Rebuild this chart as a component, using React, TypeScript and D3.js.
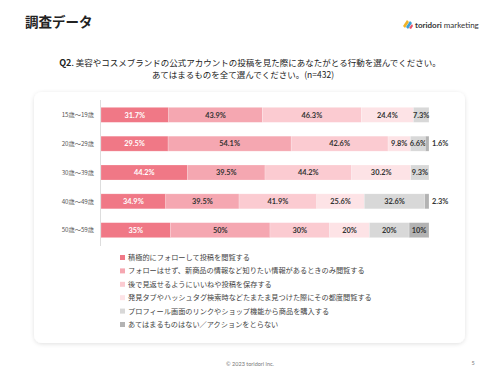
import React from "react";
import * as d3 from "d3";

const categories = ["15歳〜19歳", "20歳〜29歳", "30歳〜39歳", "40歳〜49歳", "50歳〜59歳"];
const seriesNames = [
  "積極的にフォローして投稿を閲覧する",
  "フォローはせず、新商品の情報など知りたい情報があるときのみ閲覧する",
  "後で見返せるようにいいねや投稿を保存する",
  "発見タブやハッシュタグ検索時などたまたま見つけた際にその都度閲覧する",
  "プロフィール画面のリンクやショップ機能から商品を購入する",
  "あてはまるものはない／アクションをとらない",
];
const values: number[][] = [
  [31.7, 43.9, 46.3, 24.4, 7.3, 0],
  [29.5, 54.1, 42.6, 9.8, 6.6, 1.6],
  [44.2, 39.5, 44.2, 30.2, 9.3, 0],
  [34.9, 39.5, 41.9, 25.6, 32.6, 2.3],
  [35, 50, 30, 20, 20, 10],
];
const labels: string[][] = [
  ["31.7%", "43.9%", "46.3%", "24.4%", "7.3%", ""],
  ["29.5%", "54.1%", "42.6%", "9.8%", "6.6%", "1.6%"],
  ["44.2%", "39.5%", "44.2%", "30.2%", "9.3%", ""],
  ["34.9%", "39.5%", "41.9%", "25.6%", "32.6%", "2.3%"],
  ["35%", "50%", "30%", "20%", "20%", "10%"],
];
const colors = ["#f07886", "#f5a7b1", "#fbcbd1", "#fde3e6", "#d8d8d8", "#b3b3b3"];

const JP = "'Noto Sans CJK JP', 'Noto Sans', sans-serif";
const NUM = "Lato, 'Noto Sans', sans-serif";

export default function App() {
  const W = 500, H = 375;
  const x0 = 101, x1 = 429;
  const y = d3.scaleBand<string>().domain(categories).range([101, 244]).paddingInner(0.48).paddingOuter(0.22);

  return (
    <svg width={W} height={H} style={{ position: "absolute", left: 0, top: 0, background: "#fff" }}>
      <defs>
        <filter id="sh" x="-5%" y="-5%" width="110%" height="110%">
          <feDropShadow dx="0" dy="1" stdDeviation="2" floodColor="#000" floodOpacity="0.12" />
        </filter>
      </defs>
      <rect width={W} height={H} fill="#fff" />
      <text x={25} y={27} fontFamily={JP} fontWeight={700} fontSize={13.5} fill="#222">調査データ</text>
      <g>
        <g transform="translate(403,22)">
          <path d="M0,4 L4,-2 L6,0 L2,6 Z" fill="#f0b429" />
          <path d="M3,5 L7,-1 L9,1 L5,7 Z" fill="#3aa0d8" />
          <path d="M6,6 L9,2 L10,4 L8,7 Z" fill="#e8506a" />
        </g>
        <text x={415} y={28} fontFamily={NUM} fontSize={8} fill="#333">
          <tspan fontWeight={700}>toridori</tspan>
          <tspan dx={2}>marketing</tspan>
        </text>
      </g>
      <text x={250} y={66} textAnchor="middle" fontFamily={JP} fontSize={8.5} fill="#222">
        <tspan fontWeight={700} fontSize={9}>Q2</tspan>
        <tspan>. 美容やコスメブランドの公式アカウントの投稿を見た際にあなたがとる行動を選んでください。</tspan>
      </text>
      <text x={243} y={77.5} textAnchor="middle" fontFamily={JP} fontSize={8.5} fill="#222">
        あてはまるものを全て選んでください。(n=432)
      </text>
      <rect x={34} y={92} width={431} height={251} rx={8} fill="#fff" filter="url(#sh)" />
      <line x1={100.5} x2={100.5} y1={100} y2={246} stroke="#ddd" strokeWidth={1} />
      {categories.map((c, i) => {
        const total = d3.sum(values[i]);
        const xs = d3.scaleLinear().domain([0, total]).range([x0, x1]);
        const yy = y(c)!;
        const bh = y.bandwidth();
        let acc = 0;
        return (
          <g key={c}>
            <text x={94} y={yy + bh / 2} dy="0.35em" textAnchor="end" fontFamily={JP} fontSize={6.2} fill="#555">{c}</text>
            {values[i].map((v, j) => {
              const start = acc;
              acc += v;
              if (v === 0) return null;
              const xa = xs(start), xb = xs(acc);
              const w = xb - xa;
              const small = w < 8;
              return (
                <g key={j}>
                  <rect x={xa} y={yy} width={w} height={bh} fill={colors[j]} stroke="#fff" strokeOpacity={0.35} strokeWidth={0.6} />
                  <text
                    x={small ? x1 + 3 : (xa + xb) / 2}
                    y={yy + bh / 2}
                    dy="0.36em"
                    textAnchor={small ? "start" : "middle"}
                    fontFamily={NUM}
                    fontWeight={700}
                    fontSize={7.4}
                    fill={j === 0 ? "#fff" : "#333"}
                  >
                    {labels[i][j]}
                  </text>
                </g>
              );
            })}
          </g>
        );
      })}
      {seriesNames.map((s, j) => {
        const ly = 257.5 + j * 13.4;
        return (
          <g key={s}>
            <rect x={120} y={ly - 2.5} width={5} height={5} fill={colors[j]} />
            <text x={128} y={ly} dy="0.35em" fontFamily={JP} fontSize={7.2} fill="#444">{s}</text>
          </g>
        );
      })}
      <text x={250} y={366} textAnchor="middle" fontFamily={NUM} fontSize={5.5} fill="#777">© 2023 toridori inc.</text>
      <text x={473} y={365} textAnchor="middle" fontFamily={NUM} fontSize={5.5} fill="#777">5</text>
    </svg>
  );
}
